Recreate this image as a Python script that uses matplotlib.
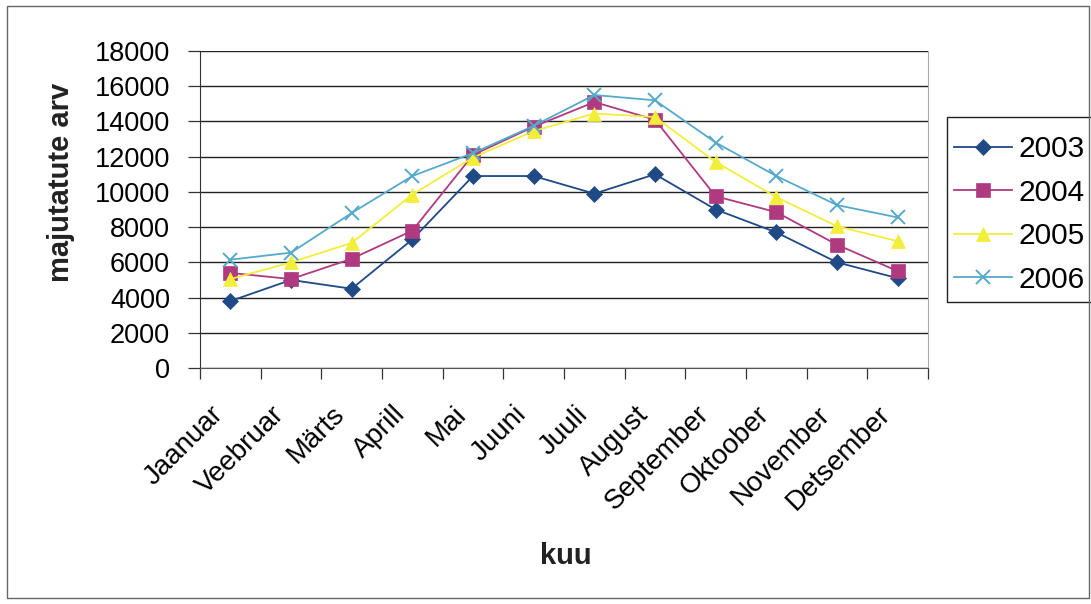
import matplotlib
matplotlib.use('Agg')
from matplotlib import pyplot as plt
from matplotlib.patches import Rectangle
from matplotlib.transforms import ScaledTranslation

plt.rcParams['font.family'] = ['Liberation Sans', 'DejaVu Sans']

months = ['Jaanuar', 'Veebruar', 'Märts', 'Aprill', 'Mai', 'Juuni', 'Juuli',
          'August', 'September', 'Oktoober', 'November', 'Detsember']
years = ['2003', '2004', '2005', '2006']

v2003 = [3800, 5000, 4500, 7300, 10900, 10900, 9900, 11000, 9000, 7700, 6000, 5100]
v2004 = [5400, 5050, 6200, 7800, 12100, 13700, 15100, 14100, 9750, 8850, 7000, 5500]
v2005 = [5050, 6000, 7100, 9850, 11950, 13450, 14450, 14250, 11700, 9700, 8050, 7200]
v2006 = [6150, 6550, 8800, 10900, 12200, 13750, 15500, 15200, 12800, 10900, 9250, 8550]

yticks = list(range(0, 18001, 2000))

series = [v2003, v2004, v2005, v2006]
colors = ['#1f4a86', '#b03a80', '#f2ee3a', '#55aacb']
markers = ['D', 's', '^', 'x']
msizes = [8.5, 9.5, 9.5, 10.5]

fig = plt.figure(figsize=(10.91, 6.04), dpi=100)
ax = fig.add_axes([200 / 1091, 1 - 368 / 604, 728 / 1091, 317 / 604])

x = [i + 0.5 for i in range(len(months))]
for vals, year, c, m, ms in zip(series, years, colors, markers, msizes):
    ax.plot(x, vals, color=c, marker=m, markersize=ms, linewidth=1.3,
            markeredgewidth=1.4 if m == 'x' else 0.5, label=year)

ax.set_xlim(0, 12)
ax.set_ylim(0, 18000)
ax.set_yticks(yticks)
ax.set_yticklabels([str(t) for t in yticks], fontsize=19.5)
ax.yaxis.grid(True, color='#222222', linewidth=1.0)
ax.set_axisbelow(True)
ax.tick_params(axis='y', length=9, width=0.9, color='#333333', pad=12.5)

ax.set_xticks(x)
ax.set_xticklabels(months, rotation=45, ha='right', rotation_mode='anchor', fontsize=20)
ax.set_xticks(range(13), minor=True)
ax.tick_params(axis='x', which='major', length=0, pad=24)
ax.tick_params(axis='x', which='minor', length=8, width=0.9, color='#333333')
shift = ScaledTranslation(-20 / 100, 0, fig.dpi_scale_trans)
for lab in ax.get_xticklabels():
    lab.set_transform(lab.get_transform() + shift)

ax.spines['top'].set_visible(False)
ax.spines['right'].set_color('#aaaaaa')
ax.spines['left'].set_color('#333333')
ax.spines['bottom'].set_color('#555555')

fig.text(61 / 1091, 1 - 182 / 604, 'majutatute arv', fontsize=21, fontweight='bold',
         rotation=90, ha='center', va='center', color='#222222')
fig.text(566 / 1091, 1 - 556 / 604, 'kuu', fontsize=21, fontweight='bold',
         ha='center', va='center', color='#222222')

# legend entries without frame, frame drawn separately so it can sit where the original has it
fig.legend(loc='upper left', bbox_to_anchor=(954 / 1091, 1 - 135 / 604), fontsize=21.5,
           frameon=False, handlelength=1.94, labelspacing=0.52, borderpad=0,
           handletextpad=0.23, borderaxespad=0)
fig.patches.append(Rectangle((947 / 1091, 1 - 302 / 604), 150 / 1091, 185 / 604,
                             transform=fig.transFigure, fill=False, edgecolor='#222222', linewidth=1.0))

fig.patches.append(Rectangle((7 / 1091, 6 / 604), 1082 / 1091, 592 / 604, transform=fig.transFigure,
                             fill=False, edgecolor='#666666', linewidth=1.0))

fig.savefig('out.png', dpi=100)
